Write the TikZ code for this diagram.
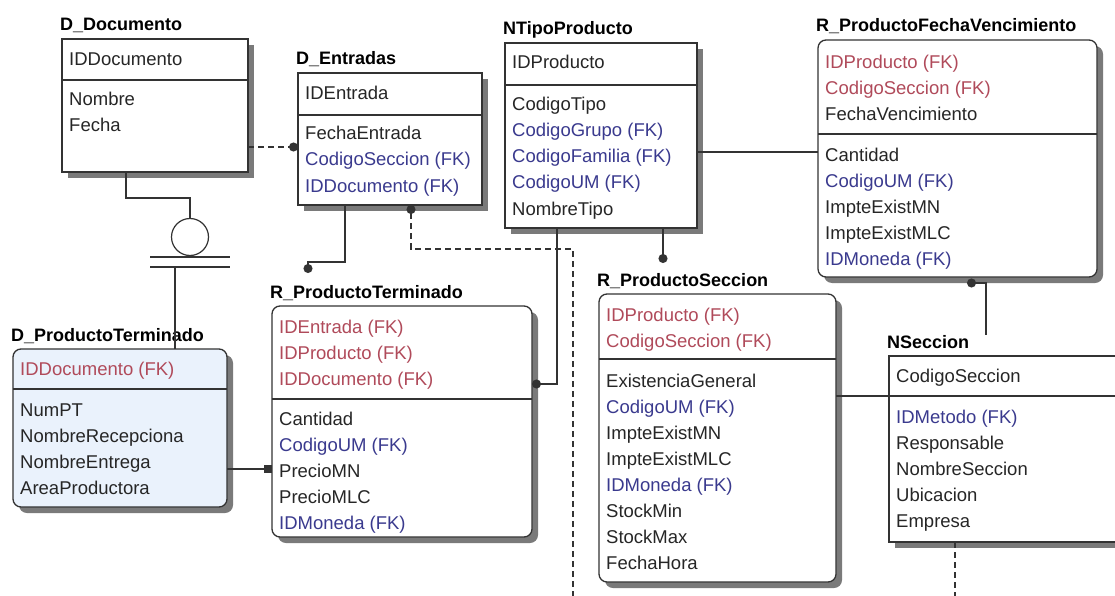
\documentclass[tikz,border=0pt]{standalone}
\usepackage{fontspec}
\setmainfont{Liberation Sans}
\usetikzlibrary{arrows.meta,shadows}

\definecolor{ink}{HTML}{262626}
\definecolor{fkr}{HTML}{B04A5A}
\definecolor{fkb}{HTML}{3A3A8E}
\definecolor{edge}{HTML}{333333}
\definecolor{shade}{HTML}{7A7A7A}
\definecolor{paleblue}{HTML}{EAF2FC}

\tikzset{
  entbox/.style={draw=edge, line width=1.3pt, fill=white, inner sep=0pt, outer sep=0pt,
    anchor=north west,
    drop shadow={shadow xshift=6pt, shadow yshift=-6pt, fill=shade, opacity=1}},
  depbox/.style={entbox, rounded corners=8pt},
  divline/.style={draw=edge, line width=1.3pt},
  fld/.style={anchor=base west, inner sep=0pt, font=\fontsize{18.5}{20}\selectfont},
  ttl/.style={anchor=base west, inner sep=0pt, text=black, font=\fontsize{18}{20}\selectfont\bfseries},
  rel/.style={draw=edge, line width=1.2pt},
  idrel/.style={rel, dash pattern=on 6pt off 4pt},
  enddot/.style={-{Circle[length=9pt, width=9pt]}},
  startdot/.style={{Circle[length=9pt, width=9pt]}-},
  endsq/.style={-{Square[length=8pt, width=8pt]}},
}

% entity box: name, x1, y1, x2, y2, divider y, box style
\newcommand\erbox[7]{%
  \node[#7, minimum width={#4-#2}, minimum height={#5-#3}] (#1) at (#2,#3) {};
  \draw[divline] (#1.west |- 0,#6) -- (#1.east |- 0,#6);
}
% column list: name prefix, x, first row y, list of colour/text
\newcommand\fieldlist[4]{%
  \foreach \c/\t [count=\i] in {#4}{
    \node[fld, text=\c] (#1-\i) at ({#2}, {#3+26*(\i-1)+6}) {\t};
  }%
}

\begin{document}
\begin{tikzpicture}[x=1pt, y=-1pt]
\fill[white] (0,0) rectangle (1115,596);
\useasboundingbox (0,0) rectangle (1115,596);

% ---- entities ----
\erbox{doc}{62}{39}{248}{172}{80}{entbox}
\node[ttl] (doc-t) at (60,31) {D\_Documento};
\fieldlist{doc-k}{69}{60}{ink/IDDocumento}
\fieldlist{doc-a}{69}{100}{ink/Nombre, ink/Fecha}

\erbox{ent}{298}{73}{482}{205}{115}{entbox}
\node[ttl] (ent-t) at (296,65) {D\_Entradas};
\fieldlist{ent-k}{305}{94}{ink/IDEntrada}
\fieldlist{ent-a}{305}{134}{ink/FechaEntrada, fkb/CodigoSeccion (FK), fkb/IDDocumento (FK)}

\erbox{ntp}{505}{43}{697}{228}{85}{entbox}
\node[ttl] (ntp-t) at (503,35) {NTipoProducto};
\fieldlist{ntp-k}{512}{63}{ink/IDProducto}
\fieldlist{ntp-a}{512}{105}{ink/CodigoTipo, fkb/CodigoGrupo (FK), fkb/CodigoFamilia (FK), fkb/CodigoUM (FK), ink/NombreTipo}

\erbox{rpfv}{818}{40}{1097}{277}{134}{depbox}
\node[ttl] (rpfv-t) at (816,32) {R\_ProductoFechaVencimiento};
\fieldlist{rpfv-k}{825}{63}{fkr/IDProducto (FK), fkr/CodigoSeccion (FK), ink/FechaVencimiento}
\fieldlist{rpfv-a}{825}{155}{ink/Cantidad, fkb/CodigoUM (FK), ink/ImpteExistMN, ink/ImpteExistMLC, fkb/IDMoneda (FK)}

\erbox{rpt}{272}{306}{532}{537}{399}{depbox}
\node[ttl] (rpt-t) at (270,298) {R\_ProductoTerminado};
\fieldlist{rpt-k}{279}{327}{fkr/IDEntrada (FK), fkr/IDProducto (FK), fkr/IDDocumento (FK)}
\fieldlist{rpt-a}{279}{419}{ink/Cantidad, fkb/CodigoUM (FK), ink/PrecioMN, ink/PrecioMLC, fkb/IDMoneda (FK)}

\erbox{dpt}{13}{349}{227}{507}{389}{depbox, fill=paleblue}
\node[ttl] (dpt-t) at (11,341) {D\_ProductoTerminado};
\fieldlist{dpt-k}{20}{369}{fkr/IDDocumento (FK)}
\fieldlist{dpt-a}{20}{410}{ink/NumPT, ink/NombreRecepciona, ink/NombreEntrega, ink/AreaProductora}

\erbox{rps}{599}{294}{836}{582}{359}{depbox}
\node[ttl] (rps-t) at (597,286) {R\_ProductoSeccion};
\fieldlist{rps-k}{606}{315}{fkr/IDProducto (FK), fkr/CodigoSeccion (FK)}
\fieldlist{rps-a}{606}{381}{ink/ExistenciaGeneral, fkb/CodigoUM (FK), ink/ImpteExistMN, ink/ImpteExistMLC, fkb/IDMoneda (FK), ink/StockMin, ink/StockMax, ink/FechaHora}

\erbox{nsec}{889}{356}{1135}{542}{396}{entbox}
\node[ttl] (nsec-t) at (887,348) {NSeccion};
\fieldlist{nsec-k}{896}{376}{ink/CodigoSeccion}
\fieldlist{nsec-a}{896}{417}{fkb/IDMetodo (FK), ink/Responsable, ink/NombreSeccion, ink/Ubicacion, ink/Empresa}

% ---- subtype symbol under D_Documento ----
\node[circle, draw=edge, line width=1.2pt, minimum size=37pt, inner sep=0pt] (sub) at (190,237) {};
\draw[rel] (126,0 |- doc.south) -- (126,198) -| (sub.north);
\draw[rel] (150,257) -- (230,257);
\draw[rel] (150,267) -- (230,267);
\draw[rel] (175,267) -- (175,0 |- dpt.north);

% ---- relationships ----
\coordinate (rptin) at (308,273);
\coordinate (rpsin) at (663,263);
\coordinate (pfvfoot) at (967,283);
\coordinate (dashend) at (573,600);
\coordinate (nsecdash) at (955,600);

\draw[idrel, enddot] (doc.east |- 0,147) -- (ent.west |- 0,147);
\draw[rel, enddot] (345,0 |- ent.south) -- (345,262) -| (rptin);
\draw[idrel, startdot] (411,0 |- ent.south) -- (411,249) -| (dashend);
\draw[rel] (ntp.east |- 0,152) -- (rpfv.west |- 0,152);
\draw[rel, enddot] (663,0 |- ntp.south) -- (rpsin);
\draw[rel, enddot] (557,0 |- ntp.south) |- (rpt.east |- 0,384);
\draw[rel, endsq] (dpt.east |- 0,469) -- (rpt.west |- 0,469);
\draw[rel] (rps.east |- 0,396) -- (nsec.west |- 0,396);
\draw[rel, enddot] (986,0 |- nsec-t.north) |- (pfvfoot);
\draw[idrel] (955,0 |- nsec.south) -- (nsecdash);
\end{tikzpicture}
\end{document}
